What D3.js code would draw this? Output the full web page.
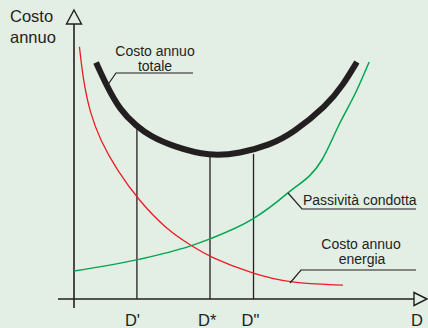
<!DOCTYPE html>
<html>
<head>
<meta charset="utf-8">
<script src="https://cdn.jsdelivr.net/npm/d3@7"></script>
<style>
  html, body { margin: 0; padding: 0; background: #e3eee4; }
  svg { display: block; }
  text { font-family: "Liberation Sans", Arial, sans-serif; fill: #231f20; }
</style>
</head>
<body>
<div id="chart"></div>
<script>
// Curves (D = diameter, cost in arbitrary units 0..10)
const energyD    = [0.16, 0.27, 0.47, 0.77, 1.26, 1.94, 2.74, 3.47, 4.0, 5.26, 6.35, 7.91];
const energyCost = [8.73, 7.58, 6.44, 5.50, 4.46, 3.36, 2.39, 1.83, 1.45, 0.87, 0.55, 0.48];

const pipeD    = [0, 1.94, 3.41, 4.0, 5.26, 6.29, 7.29, 7.82, 8.32, 8.68];
const pipeCost = [0.97, 1.38, 1.83, 2.08, 2.77, 3.67, 4.81, 6.09, 7.23, 8.20];

const totalD    = [0.65, 0.96, 1.35, 1.84, 2.24, 2.91, 4.0, 4.88, 5.76, 6.44, 7.44, 7.91, 8.32];
const totalCost = [8.18, 7.38, 6.54, 5.98, 5.64, 5.28, 4.93, 5.04, 5.33, 5.74, 6.70, 7.40, 8.20];

const markerD     = [1.85, 4.0, 5.28];
const markerTop   = [5.96, 4.95, 5.02];
const markerLabel = ["D'", "D*", 'D"'];

const width = 428;
const height = 328;
const dark = '#231f20';

const svg = d3.select('#chart')
    .append('svg')
    .attr('width', width)
    .attr('height', height);

const x = d3.scaleLinear().domain([0, 10]).range([74, 414]);
const y = d3.scaleLinear().domain([0, 10]).range([299, 10]);

const line = d3.line()
    .x(d => x(d[0]))
    .y(d => y(d[1]))
    .curve(d3.curveMonotoneX);

const smoothLine = d3.line()
    .x(d => x(d[0]))
    .y(d => y(d[1]))
    .curve(d3.curveBasis);

// vertical marker lines
svg.append('g')
    .selectAll('line')
    .data(markerD)
    .enter()
    .append('line')
    .attr('x1', d => x(d))
    .attr('x2', d => x(d))
    .attr('y1', y(0))
    .attr('y2', (d, i) => y(markerTop[i]))
    .attr('stroke', dark)
    .attr('stroke-width', 1.3);

svg.append('g')
    .selectAll('text')
    .data(markerD)
    .enter()
    .append('text')
    .attr('x', d => x(d) - 12)
    .attr('y', 326)
    .style('font-size', '16.5px')
    .text((d, i) => markerLabel[i]);

// axes
svg.append('line')
    .attr('x1', 58).attr('x2', 414)
    .attr('y1', y(0)).attr('y2', y(0))
    .attr('stroke', dark).attr('stroke-width', 1.6);
svg.append('line')
    .attr('x1', x(0)).attr('x2', x(0))
    .attr('y1', 24).attr('y2', 308)
    .attr('stroke', dark).attr('stroke-width', 1.6);

// arrow heads (open triangles)
svg.append('path')
    .attr('d', 'M' + x(0) + ',10 L' + (x(0) + 7.5) + ',24 L' + (x(0) - 7.5) + ',24 Z')
    .attr('fill', '#e3eee4').attr('stroke', dark).attr('stroke-width', 1.4);
svg.append('path')
    .attr('d', 'M427,' + y(0) + ' L414,' + (y(0) - 6.5) + ' L414,' + (y(0) + 6.5) + ' Z')
    .attr('fill', '#e3eee4').attr('stroke', dark).attr('stroke-width', 1.4);

// curves
svg.append('path')
    .datum(d3.zip(energyD, energyCost))
    .attr('d', smoothLine)
    .attr('fill', 'none')
    .attr('stroke', '#ed1c24')
    .attr('stroke-width', 1.3);

svg.append('path')
    .datum(d3.zip(pipeD, pipeCost))
    .attr('d', line)
    .attr('fill', 'none')
    .attr('stroke', '#00a651')
    .attr('stroke-width', 1.5);

svg.append('path')
    .datum(d3.zip(totalD, totalCost))
    .attr('d', smoothLine)
    .attr('fill', 'none')
    .attr('stroke', dark)
    .attr('stroke-width', 6);

// axis titles
svg.append('text').attr('x', 10).attr('y', 22).style('font-size', '16.5px').text('Costo');
svg.append('text').attr('x', 10).attr('y', 43).style('font-size', '16.5px').text('annuo');
svg.append('text').attr('x', 411).attr('y', 326).style('font-size', '16.5px').text('D');

// annotations with leader lines
const leaders = svg.append('g')
    .attr('fill', 'none')
    .attr('stroke', dark)
    .attr('stroke-width', 1.2);

leaders.append('path').attr('d', 'M107,86 L116,73 L193,73');
leaders.append('path').attr('d', 'M288,193 L302,209 L416,209');
leaders.append('path').attr('d', 'M290,283 L301,270 L416,270');

svg.append('text').attr('x', 155).attr('y', 56).attr('text-anchor', 'middle')
    .style('font-size', '14px').text('Costo annuo');
svg.append('text').attr('x', 155).attr('y', 71).attr('text-anchor', 'middle')
    .style('font-size', '14px').text('totale');
svg.append('text').attr('x', 303).attr('y', 205)
    .style('font-size', '14px').text('Passività condotta');
svg.append('text').attr('x', 361).attr('y', 249).attr('text-anchor', 'middle')
    .style('font-size', '14px').text('Costo annuo');
svg.append('text').attr('x', 362).attr('y', 264).attr('text-anchor', 'middle')
    .style('font-size', '14px').text('energia');
</script>
</body>
</html>
